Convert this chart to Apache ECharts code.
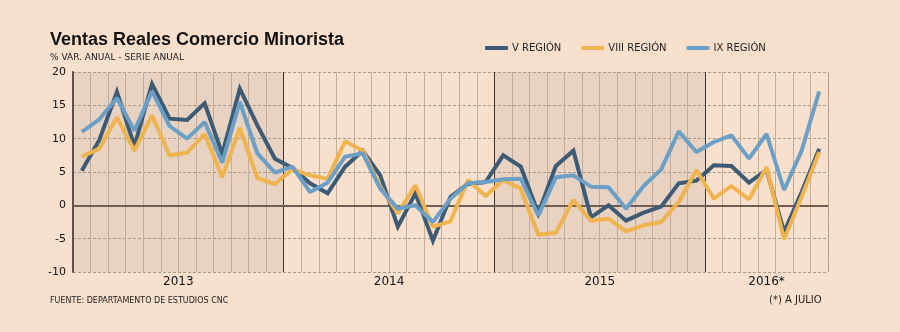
<!DOCTYPE html>
<html>
<head>
<meta charset="utf-8">
<script src="https://cdn.jsdelivr.net/npm/echarts@6/dist/echarts.min.js"></script>
<style>
html,body{margin:0;padding:0;background:#f9e0cd;}
#c{width:900px;height:332px;}
</style>
</head>
<body>
<div id="c"></div>
<script>
// ---- data ----
const years = ['2013', '2014', '2015', '2016*'];
const monthsPerYear = [12, 12, 12, 7];
const shadedYears = [0, 2];
const monthNames = ['Ene','Feb','Mar','Abr','May','Jun','Jul','Ago','Sep','Oct','Nov','Dic'];
const categories = [];
years.forEach((y, k) => { for (let m = 0; m < monthsPerYear[k]; m++) categories.push(monthNames[m] + ' ' + y.replace('*','')); });

const seriesNames = ['V REGIÓN', 'VIII REGIÓN', 'IX REGIÓN'];
const vRegion = [
  5.2, 9.8, 17.0, 8.9, 18.2, 13.0, 12.8, 15.3, 7.7, 17.5, 12.0, 7.0,
  5.6, 3.3, 1.8, 5.8, 8.2, 4.5, -3.2, 1.8, -5.3, 1.3, 3.2, 3.5,
  7.5, 5.8, -1.2, 5.9, 8.2, -1.8, 0.0, -2.3, -1.1, -0.2, 3.3, 3.7,
  6.0, 5.9, 3.4, 5.3, -4.0, 2.0, 8.5
];
const viiiRegion = [
  7.3, 8.5, 13.2, 8.2, 13.5, 7.5, 7.9, 10.7, 4.2, 11.6, 4.1, 3.2,
  5.4, 4.5, 4.0, 9.6, 8.2, 2.8, -1.2, 3.0, -3.2, -2.4, 3.8, 1.4,
  3.8, 2.5, -4.4, -4.1, 0.8, -2.3, -2.0, -3.9, -3.0, -2.5, 0.5, 5.3,
  1.0, 2.9, 0.9, 5.7, -5.1, 1.3, 8.0
];
const ixRegion = [
  11.0, 12.9, 16.1, 11.2, 17.1, 11.9, 10.0, 12.5, 6.4, 15.5, 7.8, 4.9,
  5.8, 2.0, 3.4, 7.3, 7.8, 2.5, -0.5, 0.0, -2.5, 1.0, 3.3, 3.5,
  3.9, 4.0, -1.5, 4.2, 4.5, 2.8, 2.7, -0.5, 2.9, 5.4, 11.1, 8.0,
  9.5, 10.5, 7.0, 10.7, 2.3, 8.2, 17.1
];
const yTicks = { min: -10, max: 20, interval: 5 };

// ---- derived layout helpers (from data counts) ----
const total = categories.length;
const yearStarts = [];
let acc = 0;
monthsPerYear.forEach(n => { yearStarts.push(acc); acc += n; });
const yearCenterLabel = {};
years.forEach((y, k) => { yearCenterLabel[(yearStarts[k] + monthsPerYear[k] / 2).toFixed(1)] = y; });

const colors = ['#3d5b74', '#efb44e', '#6c9fc6'];
const FONT = 'DejaVu Sans';
const TFONT = '"Liberation Sans", sans-serif';

const chart = echarts.init(document.getElementById('c'), null, { renderer: 'canvas' });
chart.setOption({
  backgroundColor: '#f9e0cd',
  animation: false,
  title: [
    { text: 'Ventas Reales Comercio Minorista', left: 45, top: 26,
      textStyle: { fontFamily: TFONT, fontWeight: 'bold', fontSize: 18, color: '#111' } },
    { text: '% VAR. ANUAL - SERIE ANUAL', left: 45, top: 48,
      textStyle: { fontFamily: FONT, fontWeight: 'normal', fontSize: 9, color: '#222' } },
    { text: 'FUENTE: DEPARTAMENTO DE ESTUDIOS CNC', left: 45, top: 292,
      textStyle: { fontFamily: FONT, fontWeight: 'normal', fontSize: 8, color: '#222' } },
    { text: '(*) A JULIO', left: 764, top: 290,
      textStyle: { fontFamily: FONT, fontWeight: 'normal', fontSize: 10, color: '#222' } }
  ],
  legend: {
    left: 480, top: 38, itemWidth: 23, itemHeight: 4, itemGap: 20,
    icon: 'roundRect',
    textStyle: { fontFamily: FONT, fontSize: 10, color: '#222', padding: [0, 0, 0, -1] },
    data: seriesNames
  },
  grid: { left: 73, right: 72, top: 72, bottom: 60 },
  xAxis: [
    { type: 'category', data: categories, boundaryGap: true, show: false },
    { type: 'value', min: 0, max: total, interval: 1, z: 1.5,
      axisLine: { show: false }, axisTick: { show: false }, axisLabel: { show: false },
      splitLine: { show: true, lineStyle: { color: '#c2ad9d', width: 1, type: 'solid' } } },
    { type: 'value', min: 0, max: total, interval: 0.5, position: 'bottom',
      axisLine: { show: false }, axisTick: { show: false }, splitLine: { show: false },
      axisLabel: { show: true, margin: 4, fontFamily: FONT, fontSize: 12, color: '#111',
        formatter: v => yearCenterLabel[v.toFixed(1)] || '' } }
  ],
  yAxis: {
    type: 'value', min: yTicks.min, max: yTicks.max, interval: yTicks.interval, z: 1.5,
    axisLine: { show: true, lineStyle: { color: '#5e5048', width: 2 } },
    axisTick: { show: false },
    axisLabel: { fontFamily: FONT, fontSize: 11, color: '#111', margin: 7 },
    splitLine: { show: true, lineStyle: { color: '#ab9887', type: [3, 2], width: 1 } }
  },
  series: [
    {
      name: '_frame', type: 'line', xAxisIndex: 1, yAxisIndex: 0, data: [], silent: true,
      markArea: {
        silent: true, z: 0.5,
        itemStyle: { color: '#e8d2c2' },
        data: shadedYears.map(k => [{ xAxis: yearStarts[k] }, { xAxis: yearStarts[k] + monthsPerYear[k] }])
      },
      markLine: {
        silent: true, symbol: 'none', z: 1.8, label: { show: false },
        data: [
          ...yearStarts.slice(1).map(s => ({ xAxis: s, lineStyle: { color: '#3e3530', width: 1, type: 'solid' } })),
          { xAxis: total, lineStyle: { color: '#ab9887', width: 1, type: [3, 2] } },
          { yAxis: 0, lineStyle: { color: '#6e5d53', width: 2, type: 'solid' } }
        ]
      }
    },
    { name: seriesNames[0], type: 'line', data: vRegion, showSymbol: false, z: 3,
      lineStyle: { color: colors[0], width: 4, join: 'miter' }, itemStyle: { color: colors[0] } },
    { name: seriesNames[1], type: 'line', data: viiiRegion, showSymbol: false, z: 4,
      lineStyle: { color: colors[1], width: 4 }, itemStyle: { color: colors[1] } },
    { name: seriesNames[2], type: 'line', data: ixRegion, showSymbol: false, z: 5,
      lineStyle: { color: colors[2], width: 4 }, itemStyle: { color: colors[2] } }
  ]
});
</script>
</body>
</html>
